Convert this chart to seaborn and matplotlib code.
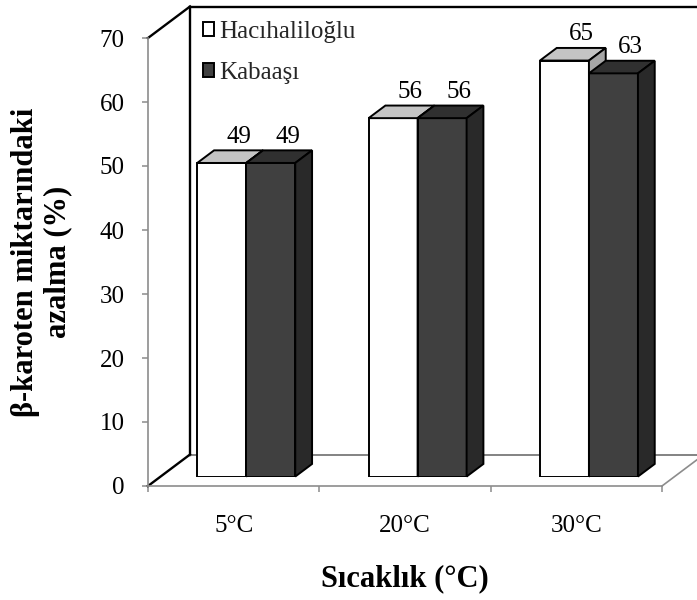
import matplotlib
matplotlib.use("Agg")
import matplotlib.pyplot as plt
from matplotlib.patches import Polygon
import pandas as pd
import seaborn as sns

# ---- data -------------------------------------------------------------
categories = ["5°C", "20°C", "30°C"]
cultivars = ["Hacıhaliloğlu", "Kabaaşı"]
hacihaliloglu = [49, 56, 65]
kabaasi = [49, 56, 63]
y_ticks = [0, 10, 20, 30, 40, 50, 60, 70]

x_title = "Sıcaklık (°C)"
y_title = "β-karoten miktarındaki\nazalma (%)"

df = pd.DataFrame({
    "Sıcaklık": categories * 2,
    "Çeşit": [cultivars[0]] * len(categories) + [cultivars[1]] * len(categories),
    "Azalma": hacihaliloglu + kabaasi,
})

# ---- style ------------------------------------------------------------
sns.set_theme(style="white")
plt.rcParams["font.family"] = ["Liberation Serif", "DejaVu Serif"]

face = {"Hacıhaliloğlu": "#ffffff", "Kabaaşı": "#404040"}
top_face = {"Hacıhaliloğlu": "#c4c4c4", "Kabaaşı": "#303030"}
side_face = {"Hacıhaliloğlu": "#a6a6a6", "Kabaaşı": "#292929"}
grid_grey = "#8c8c8c"

# ---- figure & pseudo-3D geometry (pixels) -------------------------------
W, H = 697, 600
fig = plt.figure(figsize=(W / 100, H / 100), dpi=100)
fig.patch.set_facecolor("white")

left_px, right_px = 148, 662      # front plane x extent
base_px, top_px = 486, 38         # front plane y for 0 and 70 (from top)
depth_px = (42.0, 31.5)           # front-to-back wall shift
bar_front = 0.30                  # bar front face depth (fraction)
bar_depth = 0.40                  # bar thickness (fraction)

ymax = 70
ncat = len(categories)
w_px = right_px - left_px
h_px = base_px - top_px


def plane_rect(frac):
    dx, dy = depth_px[0] * frac, depth_px[1] * frac
    return [(left_px + dx) / W, 1 - (base_px - dy) / H, w_px / W, h_px / H]


ax_front = fig.add_axes(plane_rect(0.0))
ax_bar = fig.add_axes(plane_rect(bar_front))

for ax in (ax_front, ax_bar):
    ax.set_xlim(-0.5, ncat - 0.5)
    ax.set_ylim(0, ymax)
    ax.set_facecolor("none")

# depth shift in data units
DX = depth_px[0] / w_px * ncat
DY = depth_px[1] / h_px * ymax

# ---- walls & floor ------------------------------------------------------
x0, x1 = -0.5, ncat - 0.5
wall_kw = dict(clip_on=False, solid_capstyle="projecting", zorder=1)
# back wall
ax_front.plot([x0 + DX, x1 + DX + 1], [ymax + DY, ymax + DY], color="black", lw=1.7, **wall_kw)
ax_front.plot([x0 + DX, x0 + DX], [DY, ymax + DY], color="black", lw=1.7, **wall_kw)
ax_front.plot([x0 + DX, x1 + DX + 1], [DY, DY], color="#6e6e6e", lw=1.2, **wall_kw)
# side wall
ax_front.plot([x0, x0 + DX], [ymax, ymax + DY], color="black", lw=1.7, **wall_kw)
ax_front.plot([x0, x0 + DX], [0, DY], color="black", lw=1.7, **wall_kw)
# floor, right edge
ax_front.plot([x1, x1 + DX], [0, DY], color=grid_grey, lw=1.2, **wall_kw)

# ---- front plane axes ---------------------------------------------------
for s in ("top", "right"):
    ax_front.spines[s].set_visible(False)
for s in ("left", "bottom"):
    ax_front.spines[s].set_color(grid_grey)
    ax_front.spines[s].set_linewidth(1.2)

ax_front.set_yticks(y_ticks)
ax_front.tick_params(axis="y", left=True, direction="out", length=4.3, width=1.1,
                     color=grid_grey, labelsize=18, labelcolor="black", pad=12.5)
ax_front.set_xticks(range(ncat))
ax_front.set_xticklabels(categories)
ax_front.set_xticks([i - 0.5 for i in range(ncat + 1)], minor=True)
ax_front.tick_params(axis="x", which="major", bottom=True, length=0, labelsize=18,
                     labelcolor="black", pad=21)
ax_front.tick_params(axis="x", which="minor", bottom=True, direction="out", length=4.3,
                     width=1.1, color=grid_grey)

ax_front.set_xlabel(x_title, fontsize=22, fontweight="bold", color="black")
ax_front.xaxis.set_label_coords(0.5, -(564 - base_px) / h_px)
ax_front.set_ylabel(y_title, fontsize=22, fontweight="bold", color="black", linespacing=1.15)
ax_front.yaxis.set_label_coords((72 - left_px) / w_px, 0.5)

# ---- bars ---------------------------------------------------------------
sns.barplot(data=df, x="Sıcaklık", y="Azalma", hue="Çeşit", order=categories,
            hue_order=cultivars, palette=face, saturation=1, width=0.572, gap=0,
            edgecolor="black", linewidth=1.4, ax=ax_bar)
ax_bar.set_xlim(-0.5, ncat - 0.5)
ax_bar.set_ylim(0, ymax)

bdx, bdy = DX * bar_depth, DY * bar_depth
for j, (name, cont) in enumerate(zip(cultivars, ax_bar.containers)):
    z = 2 + j
    for rect in cont:
        rx, rw, rh = rect.get_x(), rect.get_width(), rect.get_height()
        rect.set_zorder(z)
        top = Polygon([(rx, rh), (rx + rw, rh), (rx + rw + bdx, rh + bdy), (rx + bdx, rh + bdy)],
                      closed=True, facecolor=top_face[name], edgecolor="black",
                      linewidth=1.4, joinstyle="miter", zorder=z + 0.1, clip_on=False)
        side = Polygon([(rx + rw, 0), (rx + rw + bdx, bdy), (rx + rw + bdx, rh + bdy), (rx + rw, rh)],
                       closed=True, facecolor=side_face[name], edgecolor="black",
                       linewidth=1.4, joinstyle="miter", zorder=z + 0.1, clip_on=False)
        ax_bar.add_patch(top)
        ax_bar.add_patch(side)
        ax_bar.annotate(f"{rh:.0f}", xy=(rx + rw / 2 + bdx, rh + bdy), xytext=(0, 2),
                        textcoords="offset points", ha="center", va="bottom",
                        fontsize=18, color="black", zorder=10, annotation_clip=False)

handles, labels = ax_bar.get_legend_handles_labels()
if ax_bar.get_legend() is not None:
    ax_bar.get_legend().remove()
ax_bar.set_axis_off()

fig.legend(handles, labels, loc="upper left", bbox_to_anchor=(203 / W, 1 - 21 / H),
           frameon=False, fontsize=18, handlelength=0.45, handleheight=0.45,
           handletextpad=0.2, labelspacing=0.75, borderaxespad=0, borderpad=0)

fig.savefig("out.png", dpi=100, facecolor="white")
